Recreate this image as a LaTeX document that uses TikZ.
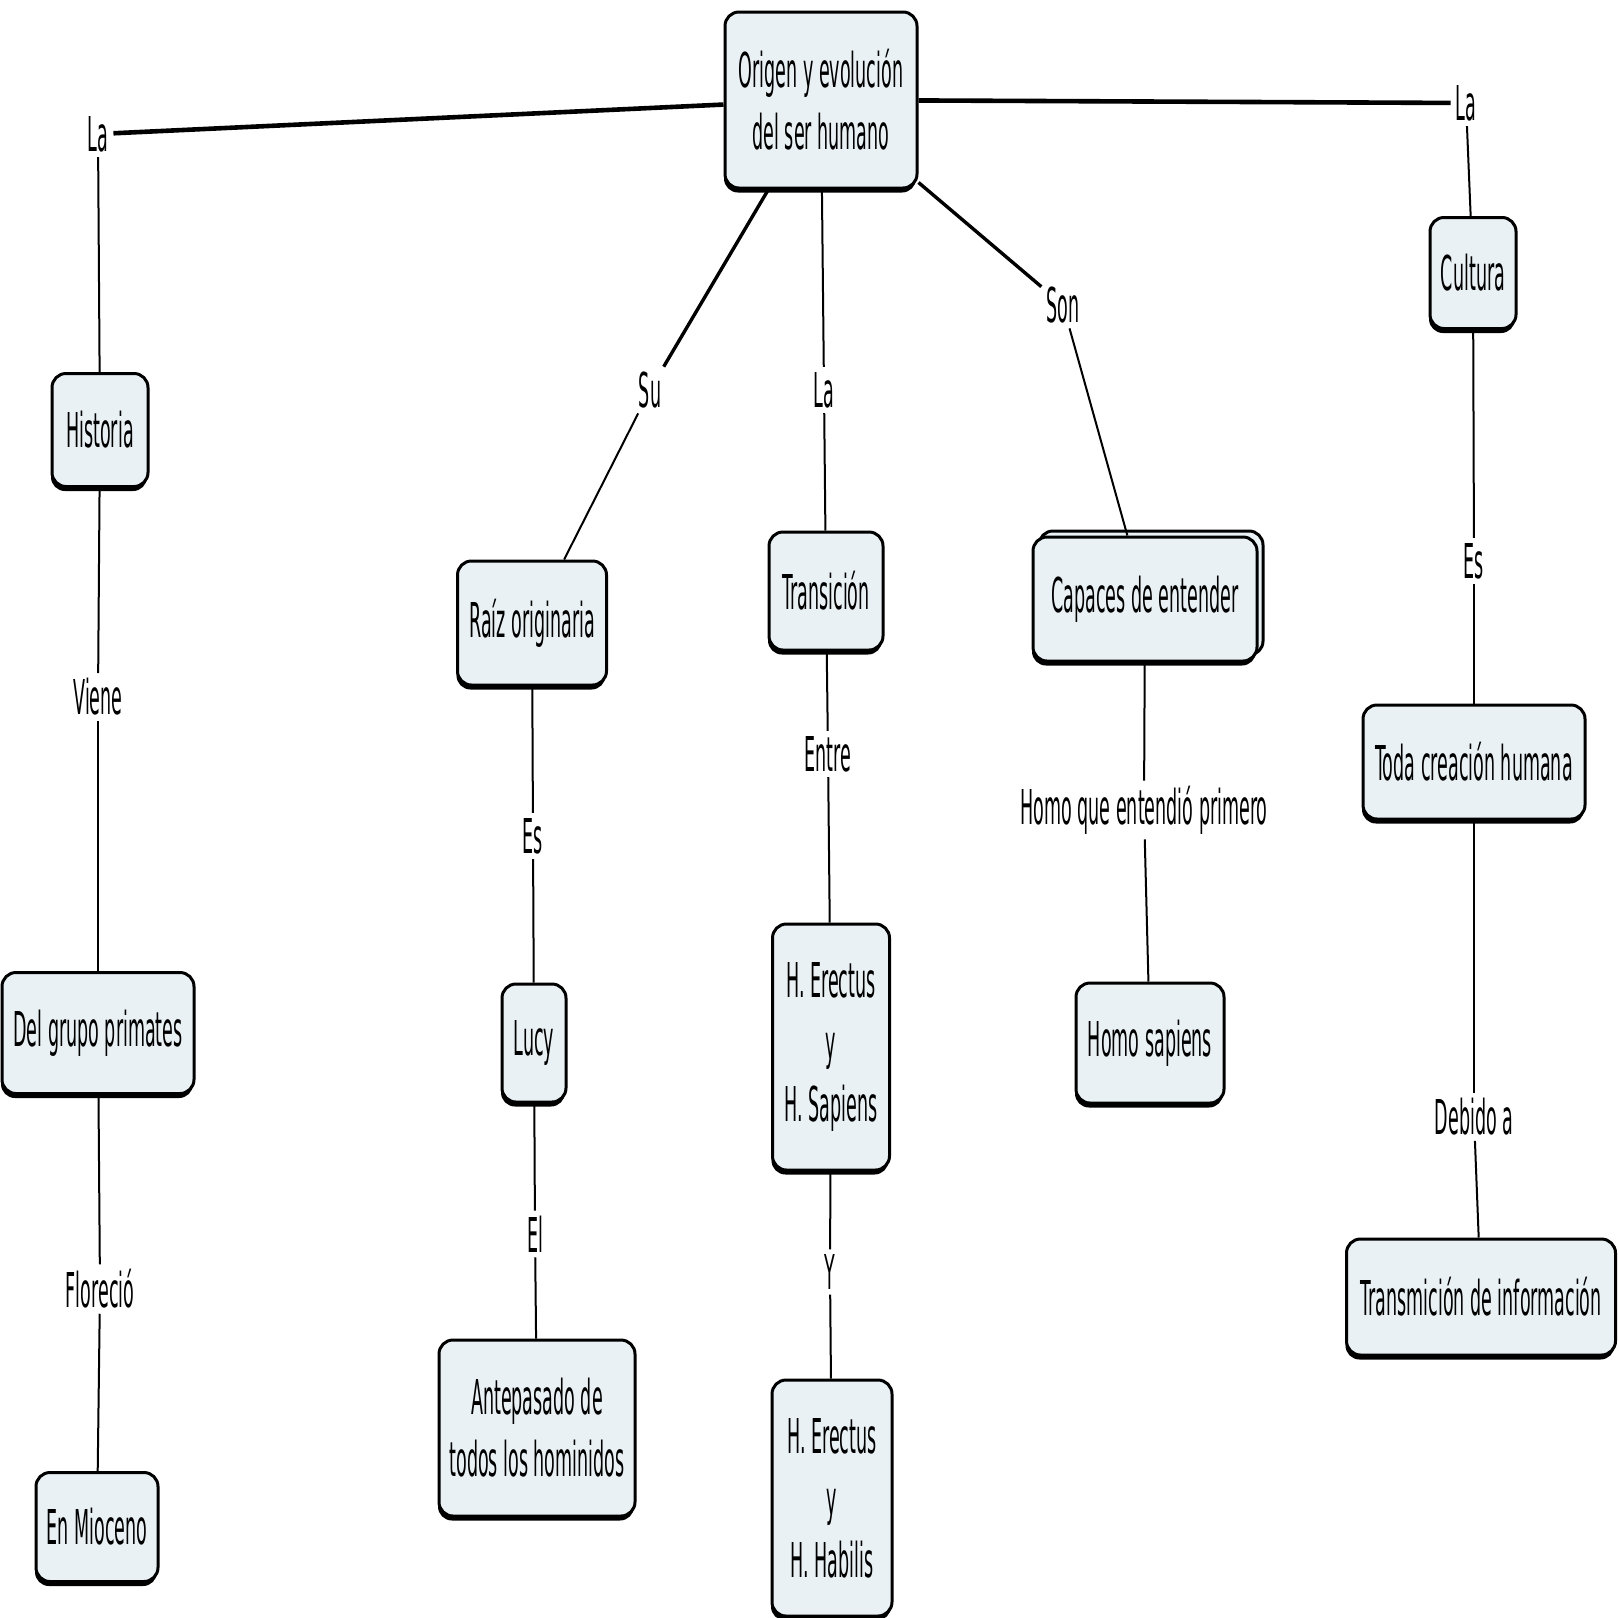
\documentclass[tikz,border=0pt]{standalone}
\usepackage{fontspec}
\setmainfont{DejaVu Sans}[FakeStretch=0.365]
\usetikzlibrary{shadows}
\definecolor{boxfill}{RGB}{233,241,244}
\tikzset{
  box/.style={draw, line width=3pt, rounded corners=14pt, fill=boxfill,
    inner sep=0pt, align=center, font=\fontsize{48}{62}\selectfont,
    general shadow={fill=black, shadow yshift=-4.5pt, shadow xshift=-1pt}},
  backbox/.style={general shadow={draw, line width=3pt, fill=boxfill, shadow xshift=6pt, shadow yshift=6pt}},
  lbl/.style={inner sep=5pt, font=\fontsize{48}{62}\selectfont, fill=white},
  thin/.style={line width=2pt},
  mid/.style={line width=3.4pt},
  heavy/.style={line width=4.6pt}
}
\begin{document}
\begin{tikzpicture}[x=1pt,y=-1pt]
\useasboundingbox (0,0) rectangle (1619,1617);
% nodes
\node[box, minimum width=192, minimum height=176] (origen) at (821,100) {Origen y evolución\\del ser humano};
\node[box, minimum width=96, minimum height=113] (historia) at (100,430) {Historia};
\node[box, minimum width=192, minimum height=121] (primates) at (98,1033) {Del grupo primates};
\node[box, minimum width=122, minimum height=109] (mioceno) at (97,1527) {En Mioceno};
\node[box, minimum width=149, minimum height=124] (raiz) at (532,623) {Raíz originaria};
\node[box, minimum width=64, minimum height=118] (lucy) at (534,1043) {Lucy};
\node[box, minimum width=196, minimum height=176] (antepasado) at (537,1428) {Antepasado de\\todos los hominidos};
\node[box, minimum width=114, minimum height=118] (transicion) at (826,591) {Transición};
\node[box, minimum width=117, minimum height=246] (sapiens) at (831,1047) {H. Erectus\\y\\H. Sapiens};
\node[box, minimum width=120, minimum height=236] (habilis) at (832,1498) {H. Erectus\\y\\H. Habilis};
\node[box, backbox, minimum width=224, minimum height=124] (capaces) at (1145,599) {Capaces de entender};
\node[box, minimum width=148, minimum height=120] (homosap) at (1150,1043) {Homo sapiens};
\node[box, minimum width=86, minimum height=111] (cultura) at (1473,273) {Cultura};
\node[box, minimum width=222, minimum height=114] (toda) at (1474,762) {Toda creación humana};
\node[box, minimum width=269, minimum height=116] (transmision) at (1481,1297) {Transmición de información};
% labels
\node[lbl] (laL) at (98,134) {La};
\node[lbl] (laR) at (1466,103) {La};
\node[lbl] (su) at (650,390) {Su};
\node[lbl] (laM) at (824,390) {La};
\node[lbl] (son) at (1063,305) {Son};
\node[lbl] (viene) at (98,697) {Viene};
\node[lbl] (florecio) at (100,1289) {Floreció};
\node[lbl] (es1) at (533,836) {Es};
\node[lbl] (el) at (535,1234) {El};
\node[lbl] (entre) at (828,754) {Entre};
\node[lbl] (y) at (830,1272) {Y};
\node[lbl] (homoque) at (1144,810) {Homo que entendió primero};
\node[lbl] (es2) at (1474,561) {Es};
\node[lbl] (debido) at (1474,1117) {Debido a};
% connectors
\draw[heavy] (origen) -- (laL);
\draw[heavy] (origen) -- (laR);
\draw[mid] (origen) -- (su);
\draw[thin] (origen) -- (laM);
\draw[mid] (origen) -- (son);
\draw[thin] (laL) -- (historia);
\draw[thin] (laR) -- (cultura);
\draw[thin] (su) -- (raiz);
\draw[thin] (laM) -- (transicion);
\draw[thin] (son) -- (capaces);
\draw[thin] (historia) -- (viene);
\draw[thin] (viene) -- (primates);
\draw[thin] (primates) -- (florecio);
\draw[thin] (florecio) -- (mioceno);
\draw[thin] (raiz) -- (es1);
\draw[thin] (es1) -- (lucy);
\draw[thin] (lucy) -- (el);
\draw[thin] (el) -- (antepasado);
\draw[thin] (transicion) -- (entre);
\draw[thin] (entre) -- (sapiens);
\draw[thin] (sapiens) -- (y);
\draw[thin] (y) -- (habilis);
\draw[thin] (capaces) -- (homoque);
\draw[thin] (homoque) -- (homosap);
\draw[thin] (cultura) -- (es2);
\draw[thin] (es2) -- (toda);
\draw[thin] (toda) -- (debido);
\draw[thin] (debido) -- (transmision);
\end{tikzpicture}
\end{document}
